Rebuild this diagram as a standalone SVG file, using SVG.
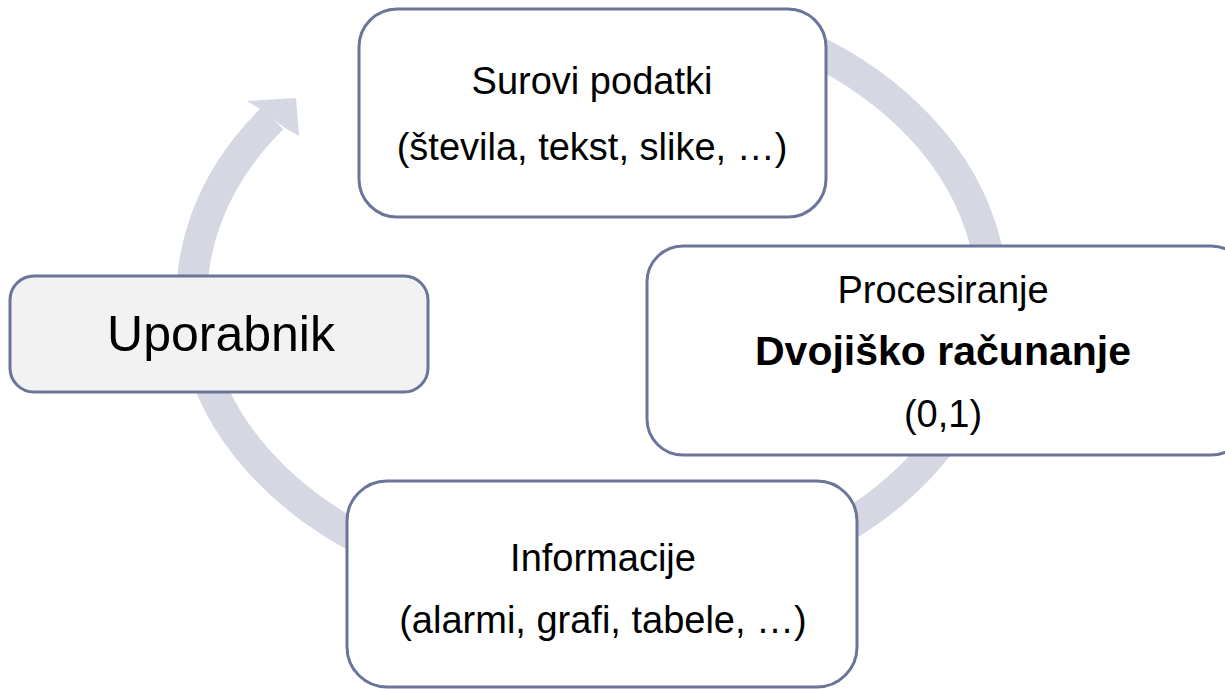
<svg xmlns="http://www.w3.org/2000/svg" width="1225" height="689" viewBox="0 0 1225 689">
  <style>
    .box { fill: #FFFFFF; stroke: #6B7499; stroke-width: 3; }
    .user { fill: #F2F2F2; stroke: #6B7499; stroke-width: 3; }
    .ring { fill: none; stroke: #D5D8E2; stroke-width: 31; }
    .head { fill: #D5D8E2; stroke: none; }
    text { font-family: "Liberation Sans", Arial, sans-serif; fill: #000000; text-anchor: middle; }
    .t { font-size: 38px; }
    .b { font-size: 41px; font-weight: bold; }
    .u { font-size: 50px; }
  </style>
  <rect width="1225" height="689" fill="#FFFFFF"/>
  <g id="connectors">
    <path class="ring" d="M 792,39.8 A 400 297 0 1 1 272.5,118.3"/>
    <polygon class="head" points="260,109 247,101 296,98 299,136 285,128"/>
  </g>
  <g id="node-surovi">
    <rect class="box" x="359" y="9" width="467" height="208" rx="38" ry="38"/>
    <text class="t" x="592" y="94">Surovi podatki</text>
    <text class="t" x="592" y="160">(števila, tekst, slike, …)</text>
  </g>
  <g id="node-procesiranje">
    <rect class="box" x="647" y="246" width="600" height="209" rx="36" ry="36"/>
    <text class="t" x="943" y="303">Procesiranje</text>
    <text class="b" x="943" y="365">Dvojiško računanje</text>
    <text class="t" x="943" y="427">(0,1)</text>
  </g>
  <g id="node-informacije">
    <rect class="box" x="347" y="481" width="510" height="206" rx="40" ry="40"/>
    <text class="t" x="603" y="571">Informacije</text>
    <text class="t" x="603" y="633">(alarmi, grafi, tabele, …)</text>
  </g>
  <g id="node-uporabnik">
    <rect class="user" x="10" y="276" width="418" height="116" rx="24" ry="24"/>
    <text class="u" x="221" y="351">Uporabnik</text>
  </g>
</svg>
